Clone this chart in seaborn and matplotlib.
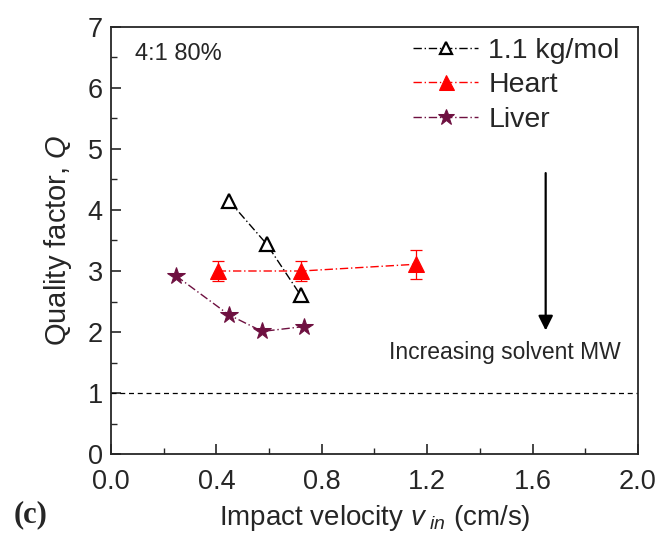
import numpy as np
import pandas as pd
import matplotlib
matplotlib.use('Agg')
import matplotlib.pyplot as plt
import seaborn as sns

# Data
v_mw11 = [0.448, 0.591, 0.720]
q_mw11 = [4.15, 3.44, 2.60]

v_heart = [0.405, 0.723, 1.156]
q_heart = [3.00, 3.00, 3.11]
err_heart = [0.17, 0.17, 0.24]

v_liver = [0.247, 0.448, 0.574, 0.733]
q_liver = [2.92, 2.28, 2.01, 2.09]

sns.set_style('ticks')
plt.rcParams['font.family'] = ['Liberation Sans', 'DejaVu Sans']
plt.rcParams['mathtext.fontset'] = 'custom'
plt.rcParams['mathtext.rm'] = 'Liberation Sans'
plt.rcParams['mathtext.it'] = 'Liberation Sans:italic'
plt.rcParams['xtick.direction'] = 'in'
plt.rcParams['ytick.direction'] = 'in'

fig = plt.figure(figsize=(6.61, 5.38), dpi=100)
ax = fig.add_axes([0.168, 0.156, 0.797, 0.794])

dd = (6, 2, 1, 2)
liver_col = '#6e1040'

df11 = pd.DataFrame({'v': v_mw11, 'q': q_mw11})
dfh = pd.DataFrame({'v': v_heart, 'q': q_heart})
dfl = pd.DataFrame({'v': v_liver, 'q': q_liver})

ax.errorbar(v_heart, q_heart, yerr=err_heart, fmt='none', ecolor='red',
            elinewidth=0.9, capsize=4, capthick=0.9, zorder=2)
err_lines = set(ax.get_lines())

sns.lineplot(data=df11, x='v', y='q', ax=ax, sort=False, color='black',
             lw=1.0, marker='^', markersize=10,
             markerfacecolor='white', markeredgecolor='black', markeredgewidth=1.6,
             label='1.1 kg/mol', zorder=3)
sns.lineplot(data=dfh, x='v', y='q', ax=ax, sort=False, color='red',
             lw=1.0, marker='^', markersize=12, markeredgecolor='red',
             label='Heart', zorder=3)
sns.lineplot(data=dfl, x='v', y='q', ax=ax, sort=False, color=liver_col,
             lw=1.0, marker='*', markersize=13, markeredgecolor=liver_col,
             label='Liver', zorder=3)
for ln in ax.get_lines():
    if ln not in err_lines:
        ln.set_dashes(dd)

ax.axhline(1.0, color='black', lw=0.9, ls=(0, (4, 3)), zorder=1)

ax.set_xlim(0, 2.0)
ax.set_ylim(0, 7)
ax.set_xticks(np.arange(0, 2.01, 0.4))
ax.set_xticks(np.arange(0, 2.01, 0.2), minor=True)
ax.set_yticks(range(0, 8))
ax.set_yticks(np.arange(0, 7.01, 0.5), minor=True)
ax.set_xticklabels(['0.0', '0.4', '0.8', '1.2', '1.6', '2.0'])
ax.tick_params(axis='both', which='major', labelsize=19.5, length=7, width=1.2)
ax.tick_params(axis='y', which='major', pad=6)
ax.tick_params(axis='x', which='major', pad=10.5)
ax.tick_params(axis='both', which='minor', length=4, width=1.0)
for sp in ax.spines.values():
    sp.set_linewidth(1.3)
    sp.set_visible(True)

ax.set_xlabel('Impact velocity $v_{\\ in}$ (cm/s)', fontsize=20, labelpad=6)
ax.set_ylabel('Quality factor, $Q$', fontsize=21, labelpad=10)

ax.text(0.09, 6.55, '4:1 80%', fontsize=17, va='center', ha='left')
ax.annotate('', xy=(1.65, 1.98), xytext=(1.65, 4.65),
            arrowprops=dict(arrowstyle='-|>', color='black', lw=1.6,
                            mutation_scale=22))
ax.text(1.495, 1.67, 'Increasing solvent MW', fontsize=16.5, ha='center', va='center')

leg = ax.legend(loc='upper right', frameon=False, fontsize=20.5, handlelength=2.3,
                handletextpad=0.35, labelspacing=0.3, borderaxespad=0.2,
                markerscale=0.9, bbox_to_anchor=(0.998, 1.015))

fig.text(0.02, 0.043, '(c)', fontsize=22, fontweight='bold',
         family='Liberation Serif', va='center')

fig.savefig('out.png', dpi=100)
